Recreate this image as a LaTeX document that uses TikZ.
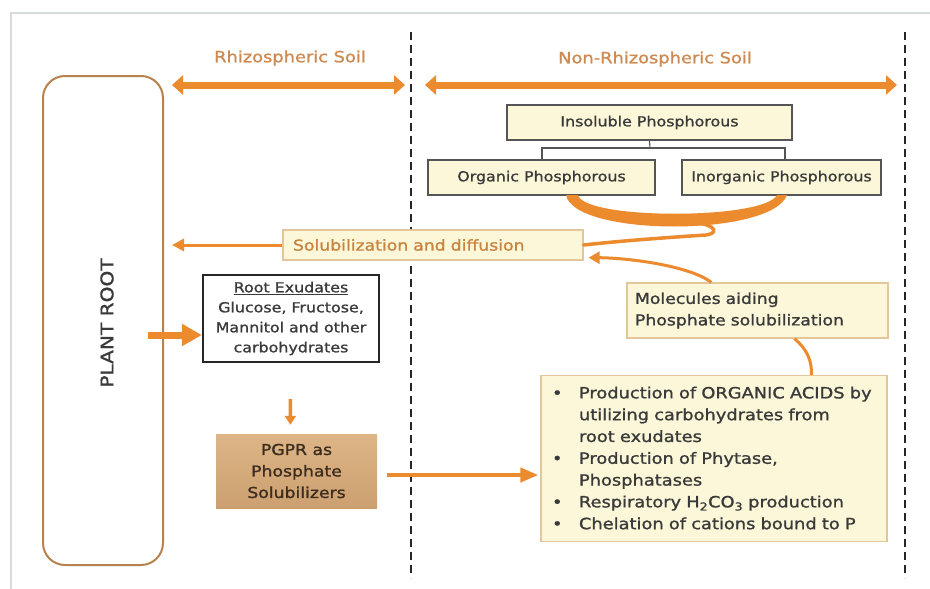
\documentclass[tikz,border=0pt]{standalone}
\usepackage{fontspec}
\setmainfont{DejaVu Sans}[FakeStretch=1.15, FakeBold=1.2]
\usetikzlibrary{arrows.meta}
\definecolor{arr}{HTML}{EC8A2E}
\definecolor{headc}{HTML}{CD8A52}
\definecolor{solc}{HTML}{C8843E}
\definecolor{boxfill}{HTML}{FCF7D9}
\definecolor{tanline}{HTML}{E3C79A}
\definecolor{rootline}{HTML}{B7824D}
\definecolor{txt}{HTML}{3A3A3A}
\definecolor{pgprtop}{HTML}{DDB587}
\definecolor{pgprbot}{HTML}{CCA070}
\definecolor{pgprtxt}{HTML}{3B2C1E}
\definecolor{framec}{HTML}{D6DBDB}
\definecolor{graybox}{HTML}{555555}
\newcommand\myfs[2]{\fontsize{#1}{#2}\selectfont}
\newcommand\bmark{\makebox[38pt][l]{\hspace{11pt}•}}
\newcommand\bcont{\hspace*{38pt}}
\begin{document}
\begin{tikzpicture}[x=1pt,y=-1pt,
  pbox/.style={draw=graybox, line width=1.3pt, fill=boxfill, inner sep=0pt, font=\myfs{13.8}{16}, text=txt},
  tanbox/.style={draw=tanline, line width=1.2pt, fill=boxfill, align=left},
  bigarr/.style={draw=arr, line width=7pt, {Triangle[width=19pt,length=11pt]}-{Triangle[width=19pt,length=11pt]}},
  dashln/.style={draw=black!85, line width=2.6pt, dash pattern=on 8pt off 5pt},
  head/.style={text=headc, font=\myfs{15.5}{18}}
]
\useasboundingbox (0,0) rectangle (930,589);
\fill[white] (0,0) rectangle (930,589);
\draw[framec, line width=1.5pt] (11,589) -- (11,13) -- (930,13);

% dashed separators
\coordinate (d1t) at (411,32); \coordinate (d1b) at (411,578);
\coordinate (d2t) at (905,32); \coordinate (d2b) at (905,578);
\draw[dashln] (d1t) -- (d1b);
\draw[dashln] (d2t) -- (d2b);

% headings
\node[head] (rzl) at (290,58) {Rhizospheric Soil};
\node[head] (nrzl) at (655,59) {Non-Rhizospheric Soil};
\coordinate (rzL) at (172,85); \coordinate (rzR) at (405,85);
\coordinate (nrL) at (425,85); \coordinate (nrR) at (897,85);
\draw[bigarr] (rzL) -- (rzR);
\draw[bigarr] (nrL) -- (nrR);

% plant root
\node[draw=rootline, line width=2pt, rounded corners=22pt, minimum width=120pt, minimum height=489pt, inner sep=0pt] (root) at (103,320.5) {};
\node[rotate=90, font=\myfs{17.5}{20}, text=txt] (rootlbl) at (107,323) {PLANT ROOT};

% phosphorous boxes
\node[pbox, minimum width=285pt, minimum height=35pt] (ins) at (649.5,122.5) {Insoluble Phosphorous};
\node[pbox, minimum width=227pt, minimum height=35pt] (org) at (541.5,177.5) {Organic Phosphorous};
\node[pbox, minimum width=199pt, minimum height=35pt] (inorg) at (781.5,177.5) {Inorganic Phosphorous};
\coordinate (bj) at (650,148);
\coordinate (bl) at (542,160);
\coordinate (br) at (785,160);
\draw[graybox, line width=1.1pt] (ins.south) -- (bj);
\draw[graybox, line width=1.1pt] (bl) |- (bj) -| (br);

% solubilization box
\node[tanbox, minimum height=30pt, text width=280pt, inner xsep=10pt, inner ysep=0pt, text=solc, font=\myfs{15}{18}] (sol) at (433,245) {Solubilization and diffusion};
\coordinate (solend) at (172,245);
\draw[arr, line width=3pt, -{Triangle[width=12pt,length=12pt]}] (sol.west) -- (solend);

% crescent and tail
\fill[arr] (566,195) .. controls (574,237) and (772,237) .. (787,195) -- (777,195) .. controls (764,220) and (584,220) .. (578,195) -- cycle;
\draw[arr, line width=3.5pt, line join=round, line cap=round] (698,223) .. controls (714,225) and (720,233) .. (706,235) .. controls (660,238) and (620,241) .. (sol.east);

% molecules box
\node[tanbox, minimum height=55pt, text width=245pt, inner xsep=8pt, text=txt, font=\myfs{15}{21.5}] (mol) at (757.5,310.5) {Molecules aiding\\Phosphate solubilization};
\draw[arr, line width=3pt, -{Triangle[width=12pt,length=11pt]}] ([xshift=85pt]mol.north west) .. controls (690,266) and (630,258) .. ([xshift=5pt,yshift=3pt]sol.south east);

% bullet box
\node[tanbox, minimum height=166pt, text width=346pt, inner xsep=0pt, text=txt, font=\myfs{15.5}{21.8}] (bul) at (714,458.5) {\bmark Production of ORGANIC ACIDS by\\\bcont utilizing carbohydrates from\\\bcont root exudates\\\bmark Production of Phytase,\\\bcont Phosphatases\\\bmark Respiratory H\textsubscript{2}CO\textsubscript{3} production\\\bmark Chelation of cations bound to P\par\vspace{1pt}};
\draw[arr, line width=3pt] ([xshift=168pt]mol.south west) .. controls (808,350) and (812,362) .. ([xshift=271pt]bul.north west);

% root exudates
\node[draw=black!85, line width=2.2pt, fill=white, minimum width=176pt, minimum height=87pt, inner sep=0pt, align=center, text=txt, font=\myfs{13.8}{20}] (exu) at (291,318.5) {\underline{Root Exudates}\\Glucose, Fructose,\\Mannitol and other\\carbohydrates};
\coordinate (rootout) at (148,335);
\draw[arr, line width=7pt, -{Triangle[width=21pt,length=20pt]}] (rootout) -- (exu.west |- rootout);

% PGPR
\node[top color=pgprtop, bottom color=pgprbot, minimum width=161pt, minimum height=74pt, inner sep=0pt, align=center, text=pgprtxt, font=\myfs{15}{21.5}] (pgpr) at (296.5,471) {PGPR as\\Phosphate\\Solubilizers};
\draw[arr, line width=3.5pt, -{Triangle[width=11pt,length=9pt]}, shorten <=36pt, shorten >=9pt] ([xshift=-1pt]exu.south) -- ([xshift=-6pt]pgpr.north);
\draw[arr, line width=4pt, -{Triangle[width=14pt,length=18pt]}, shorten <=10pt, shorten >=2pt] ([yshift=-4pt]pgpr.east) -- ([yshift=-4pt]bul.west |- pgpr.east);
\end{tikzpicture}
\end{document}
